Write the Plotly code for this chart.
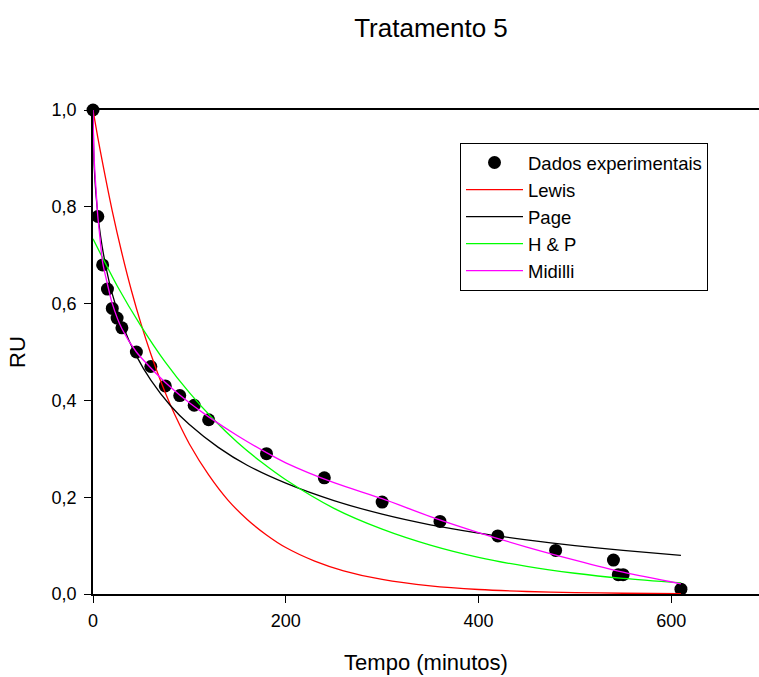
import plotly.graph_objects as go

# Experimental data
t_exp = [0, 5, 10, 15, 20, 25, 30, 45, 60, 75, 90, 105, 120, 180, 240, 300, 360, 420, 480, 540, 545, 550, 610]
ru_exp = [1.0, 0.78, 0.68, 0.63, 0.59, 0.57, 0.55, 0.50, 0.47, 0.43, 0.41, 0.39, 0.36, 0.29, 0.24, 0.19, 0.15, 0.12, 0.09, 0.07, 0.04, 0.04, 0.01]

# Lewis curve
t_lewis = [0, 5, 10, 20, 30, 40, 50, 60, 70, 80, 90, 100, 120, 140, 160, 180, 200, 230, 260, 300, 350, 400, 450, 500, 550, 610]
ru_lewis = [1.0, 0.943, 0.890, 0.791, 0.704, 0.626, 0.557, 0.496, 0.441, 0.392, 0.349, 0.310, 0.246, 0.194, 0.154, 0.122, 0.096, 0.068, 0.048, 0.030, 0.0167, 0.0093, 0.0052, 0.0029, 0.0016, 0.0008]

# Page curve
t_page = [0, 1, 2, 3, 5, 7, 10, 15, 20, 30, 45, 60, 80, 100, 130, 160, 200, 250, 300, 350, 400, 450, 500, 550, 610]
ru_page = [1.0, 0.896, 0.857, 0.828, 0.785, 0.752, 0.712, 0.661, 0.620, 0.559, 0.492, 0.442, 0.390, 0.350, 0.303, 0.266, 0.229, 0.193, 0.165, 0.143, 0.126, 0.112, 0.100, 0.090, 0.080]

# Henderson & Pabis curve
t_hp = [0, 25, 50, 75, 100, 125, 150, 175, 200, 250, 300, 350, 400, 450, 500, 550, 610]
ru_hp = [0.734, 0.637, 0.553, 0.479, 0.416, 0.361, 0.313, 0.272, 0.236, 0.177, 0.134, 0.101, 0.0757, 0.057, 0.0429, 0.0323, 0.023]

# Midilli curve
t_mid = [0, 1, 2, 3, 5, 7, 10, 15, 20, 30, 45, 60, 80, 100, 120, 150, 180, 200, 250, 300, 350, 400, 450, 500, 550, 610]
ru_mid = [1.0, 0.91, 0.87, 0.84, 0.78, 0.74, 0.685, 0.64, 0.60, 0.548, 0.50, 0.467, 0.428, 0.395, 0.366, 0.327, 0.292, 0.271, 0.230, 0.197, 0.160, 0.127, 0.097, 0.070, 0.045, 0.021]

x_ticks = [0, 200, 400, 600]
y_ticks = [0.0, 0.2, 0.4, 0.6, 0.8, 1.0]

fig = go.Figure()
fig.add_trace(go.Scatter(x=t_exp, y=ru_exp, mode="markers", name="Dados experimentais",
                         marker=dict(color="black", size=13), cliponaxis=False))
fig.add_trace(go.Scatter(x=t_lewis, y=ru_lewis, mode="lines", name="Lewis",
                         line=dict(color="#ff0000", width=1.3, shape="spline", smoothing=0.8)))
fig.add_trace(go.Scatter(x=t_page, y=ru_page, mode="lines", name="Page",
                         line=dict(color="#000000", width=1.3, shape="spline", smoothing=0.8)))
fig.add_trace(go.Scatter(x=t_hp, y=ru_hp, mode="lines", name="H & P",
                         line=dict(color="#00ff00", width=1.3, shape="spline", smoothing=0.8)))
fig.add_trace(go.Scatter(x=t_mid, y=ru_mid, mode="lines", name="Midilli",
                         line=dict(color="#ff00ff", width=1.3, shape="spline", smoothing=0.8)))

fig.update_layout(
    width=759, height=677,
    margin=dict(l=93, r=0, t=110, b=83),
    paper_bgcolor="white", plot_bgcolor="white",
    separators=",.",
    font=dict(family="Liberation Sans, Arial, sans-serif", color="black", size=18),
    title=dict(text="Tratamento 5", x=431 / 759, xref="container", xanchor="center",
               y=1 - 28 / 677, yref="container", yanchor="middle",
               font=dict(size=26, color="black")),
    showlegend=True,
    legend=dict(x=(460 - 93) / 666, y=(594.5 - 143) / 484.5, xanchor="left", yanchor="top",
                bgcolor="white", bordercolor="black", borderwidth=1,
                font=dict(size=18.5), itemwidth=57, tracegroupgap=0,
                entrywidth=212, entrywidthmode="pixels"),
)

fig.update_xaxes(range=[0, 691], tickvals=x_ticks, ticks="outside", ticklen=7, tickwidth=1,
                 tickcolor="black", showline=True, linecolor="black", linewidth=1.5, mirror=True,
                 showgrid=False, zeroline=False, tickfont=dict(size=18), ticklabelstandoff=3,
                 title=dict(text="Tempo (minutos)", font=dict(size=22), standoff=24))
fig.update_yaxes(range=[0, 1], tickvals=y_ticks, tickformat=".1f", ticks="outside", ticklen=7,
                 tickwidth=1, tickcolor="black", showline=True, linecolor="black", linewidth=1.5,
                 mirror=False, showgrid=False, zeroline=False, tickfont=dict(size=18),
                 ticklabelstandoff=4,
                 title=dict(text="RU", font=dict(size=22), standoff=20))

fig.write_html("out.html")
